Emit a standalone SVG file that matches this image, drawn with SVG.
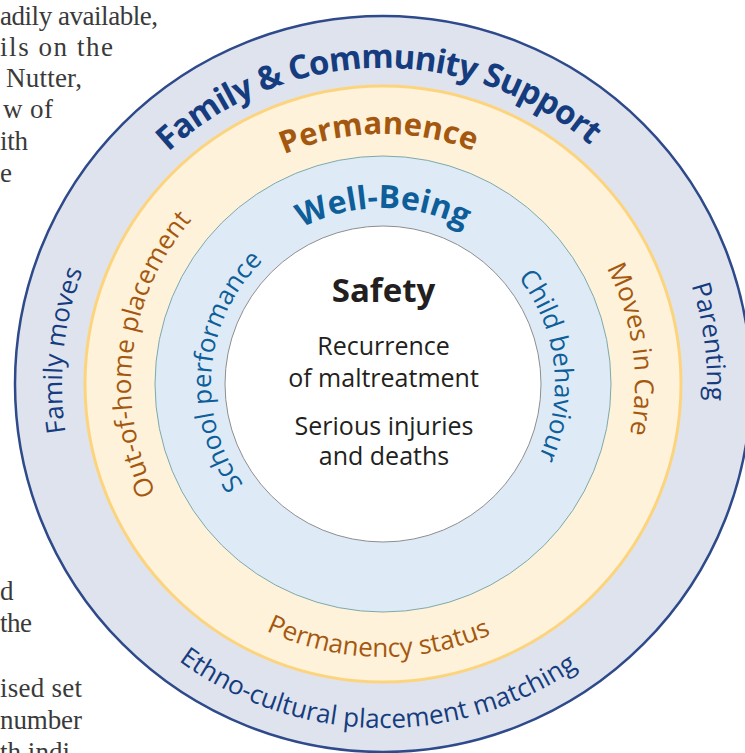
<svg xmlns="http://www.w3.org/2000/svg" width="745" height="753" viewBox="0 0 745 753">
<style>
.body{font-family:"Liberation Serif","Times New Roman",serif;font-size:27px;fill:#3a3a3a}
.sans{font-family:"Open Sans","Noto Sans",sans-serif}
.lab{font-family:"Open Sans","Noto Sans",sans-serif;font-size:26px}
.navy{fill:#153c7e}
.brown{fill:#a4580f}
.blue{fill:#0d5e99}
.dark{fill:#231f20}
</style>
<defs>
<path id="pTitle" d="M67.77,361.96 A316,316 0 0 1 697.27,350.97"/>
<path id="pPerm" d="M133.61,366.56 A250,250 0 0 1 631.63,357.87"/>
<path id="pWell" d="M207.67,368.66 A176,176 0 0 1 558.33,368.66"/>
<path id="pSchool" d="M353.13,553.39 A172,172 0 0 1 383,212"/>
<path id="pChild" d="M378.50,212.07 A172,172 0 0 1 417.29,552.55"/>
<path id="pOut" d="M328.46,630.03 A252,252 0 0 1 393.99,132.24"/>
<path id="pMoves" d="M369.81,132.35 A252,252 0 0 1 439.69,629.54"/>
<path id="pPermStat" d="M110.67,403.04 A273,273 0 0 0 654.50,412.54"/>
<path id="pFamMoves" d="M321.75,699.10 A321,321 0 0 1 388.60,63.05"/>
<path id="pParent" d="M369.43,60.29 A324,324 0 0 1 452.58,700.44"/>
<path id="pEthno" d="M39.84,408.0 A344,344 0 0 0 725.12,419.96"/>
</defs>
<rect width="745" height="753" fill="#ffffff"/>

<g id="body-text">
<text class="body" x="0" y="25" textLength="158">adily available,</text>
<text class="body" x="0" y="56" textLength="113">ils on the</text>
<text class="body" x="6" y="87" textLength="76">Nutter,</text>
<text class="body" x="3" y="118" textLength="50">w of</text>
<text class="body" x="0" y="150" textLength="28">ith</text>
<text class="body" x="0" y="182">e</text>
<text class="body" x="0" y="600">d</text>
<text class="body" x="0" y="632" textLength="32">the</text>
<text class="body" x="0" y="697" textLength="82">ised set</text>
<text class="body" x="0" y="729" textLength="82">number</text>
<text class="body" x="0" y="761" textLength="70">th indi</text>
</g>

<g id="ring-family">
<circle cx="383" cy="384" r="368" fill="#dfe3ee" stroke="#2e4a8a" stroke-width="2.5"/>
</g>
<g id="ring-permanence">
<circle cx="383" cy="384" r="298" fill="#fef2da" stroke="#fdd47e" stroke-width="3"/>
</g>
<g id="ring-wellbeing">
<circle cx="383" cy="384" r="228" fill="#deebf7" stroke="#7ea9a8" stroke-width="1"/>
</g>
<g id="ring-safety">
<circle cx="383" cy="384" r="158" fill="#ffffff" stroke="#8e8e8e" stroke-width="1"/>
</g>

<g id="label-family">
<text class="sans navy" font-size="33" font-weight="700" letter-spacing="-0.9"><textPath href="#pTitle" startOffset="50%" text-anchor="middle">Family &amp; Community Support</textPath></text>
<text class="lab navy"><textPath href="#pFamMoves" startOffset="50%" text-anchor="middle">Family moves</textPath></text>
<text class="lab navy"><textPath href="#pParent" startOffset="50%" text-anchor="middle">Parenting</textPath></text>
<text class="lab navy" font-size="26.5"><textPath href="#pEthno" startOffset="50%" text-anchor="middle">Ethno-cultural placement matching</textPath></text>
</g>

<g id="label-permanence">
<text class="sans brown" font-size="31" font-weight="700"><textPath href="#pPerm" startOffset="50%" text-anchor="middle">Permanence</textPath></text>
<text class="lab brown"><textPath href="#pOut" startOffset="50%" text-anchor="middle">Out-of-home placement</textPath></text>
<text class="lab brown"><textPath href="#pMoves" startOffset="50%" text-anchor="middle">Moves in Care</textPath></text>
<text class="lab brown"><textPath href="#pPermStat" startOffset="50%" text-anchor="middle">Permanency status</textPath></text>
</g>

<g id="label-wellbeing">
<text class="sans blue" font-size="32" font-weight="700"><textPath href="#pWell" startOffset="50%" text-anchor="middle">Well-Being</textPath></text>
<text class="lab blue"><textPath href="#pSchool" startOffset="50%" text-anchor="middle">School performance</textPath></text>
<text class="lab blue"><textPath href="#pChild" startOffset="50%" text-anchor="middle">Child behaviour</textPath></text>
</g>

<g id="label-safety" class="sans dark" text-anchor="middle">
<text x="383.5" y="302" font-size="33" font-weight="700">Safety</text>
<text x="383.5" y="355" font-size="25">Recurrence</text>
<text x="383.5" y="387" font-size="25">of maltreatment</text>
<text x="384" y="435" font-size="25">Serious injuries</text>
<text x="384" y="465" font-size="25">and deaths</text>
</g>
</svg>
